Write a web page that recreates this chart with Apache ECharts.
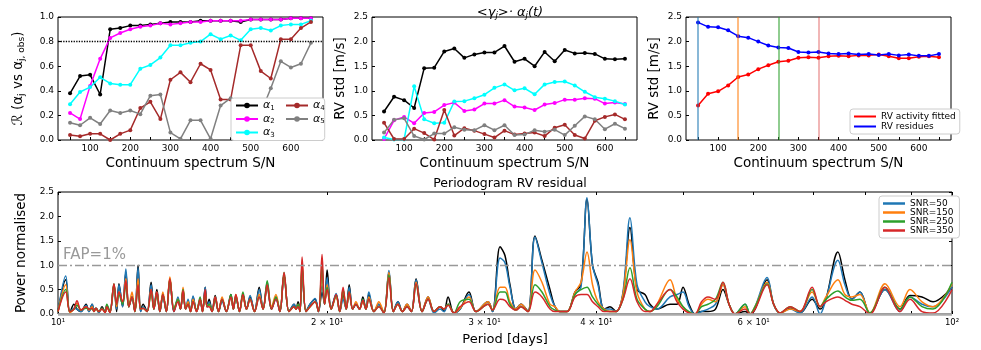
<!DOCTYPE html>
<html lang="en">
<head>
	<meta charset="UTF-8">
	<title>SNR study</title>
	<script src="https://cdn.jsdelivr.net/npm/echarts@6/dist/echarts.min.js"></script>
	<style>
		html,body{margin:0;height:100%;background:#fff;}
		#chart{width:981px;height:350px;}
	</style>
</head>
<body>
	<div id="chart"></div>
<script>
	// S/N grid shared by the three top panels
	var snr = [50,75,100,125,150,175,200,225,250,275,300,325,350,375,400,425,450,475,500,525,550,575,600,625,650];

	// panel 1 : correlation R(alpha_j vs alpha_j,obs)
	var corrA1 = [0.38,0.52,0.53,0.37,0.90,0.91,0.93,0.93,0.94,0.95,0.96,0.96,0.96,0.97,0.97,0.97,0.97,0.96,0.98,0.98,0.98,0.98,0.99,0.99,0.99];
	var corrA2 = [0.22,0.17,0.44,0.66,0.83,0.87,0.90,0.92,0.93,0.95,0.94,0.95,0.96,0.96,0.97,0.97,0.97,0.97,0.98,0.98,0.98,0.98,0.99,0.99,0.99];
	var corrA3 = [0.29,0.39,0.43,0.51,0.46,0.45,0.45,0.58,0.61,0.67,0.77,0.77,0.79,0.80,0.86,0.82,0.85,0.81,0.90,0.91,0.89,0.93,0.94,0.94,0.97];
	var corrA4 = [0.04,0.03,0.05,0.05,0.00,0.05,0.08,0.26,0.31,0.17,0.49,0.55,0.47,0.62,0.57,0.33,0.33,0.77,0.77,0.56,0.50,0.82,0.82,0.91,0.96];
	var corrA5 = [0.14,0.12,0.18,0.13,0.24,0.22,0.24,0.21,0.36,0.37,0.06,0.01,0.16,0.16,0.01,0.28,0.34,0.04,0.02,0.22,0.42,0.64,0.59,0.62,0.79];

	// panel 2 : RV std of <gamma_j>.alpha_j(t)
	var stdA1 = [0.58,0.88,0.81,0.65,1.46,1.47,1.80,1.86,1.67,1.74,1.78,1.78,1.91,1.59,1.65,1.50,1.79,1.60,1.83,1.76,1.77,1.75,1.65,1.64,1.65];
	var stdA2 = [0.02,0.40,0.47,0.34,0.55,0.57,0.71,0.76,0.59,0.62,0.74,0.74,0.81,0.68,0.66,0.61,0.72,0.75,0.82,0.82,0.85,0.84,0.74,0.76,0.73];
	var stdA3 = [0.05,0.01,0.01,1.09,0.42,0.34,0.35,0.78,0.79,0.85,0.92,1.06,1.13,1.01,1.05,0.93,1.13,1.18,1.19,1.11,0.98,0.87,0.84,0.79,0.72];
	var stdA4 = [0.35,0.02,0.02,0.23,0.14,0.01,0.61,0.09,0.24,0.19,0.12,0.05,0.19,0.11,0.13,0.15,0.08,0.25,0.31,0.10,0.03,0.39,0.47,0.52,0.42];
	var stdA5 = [0.15,0.41,0.44,0.08,0.01,0.13,0.13,0.26,0.21,0.20,0.30,0.20,0.30,0.10,0.11,0.20,0.17,0.21,0.10,0.29,0.48,0.42,0.22,0.33,0.23];

	// panel 3 : fitted activity vs residues
	var rvActivity = [0.70,0.94,0.99,1.11,1.28,1.33,1.44,1.52,1.59,1.61,1.67,1.68,1.67,1.70,1.71,1.70,1.72,1.72,1.74,1.70,1.66,1.66,1.69,1.70,1.68];
	var rvResidues = [2.39,2.30,2.29,2.23,2.11,2.08,2.00,1.92,1.88,1.87,1.79,1.78,1.79,1.76,1.75,1.76,1.74,1.75,1.73,1.75,1.72,1.74,1.71,1.71,1.75];
	var snrMarks = [50,150,250,350];

	// periodogram (period in days, normalised power)
	var periods = [10.00,10.20,10.31,10.42,10.50,10.61,10.75,10.83,10.92,10.97,
		11.03,11.11,11.20,11.29,11.34,11.43,11.55,11.63,11.70,11.81,
		11.91,12.00,12.10,12.19,12.29,12.37,12.45,12.58,12.71,12.80,
		12.90,13.00,13.10,13.22,13.34,13.48,13.62,13.71,13.80,13.89,
		13.98,14.07,14.16,14.29,14.42,14.51,14.61,14.68,14.76,14.87,
		14.99,15.12,15.26,15.43,15.61,15.71,15.81,15.96,16.10,16.25,
		16.40,16.59,16.79,16.96,17.14,17.33,17.53,17.71,17.90,18.13,
		18.37,18.46,18.56,18.65,18.75,18.94,19.14,19.39,19.56,19.74,
		19.87,20.00,20.21,20.47,20.66,20.84,21.01,21.17,21.36,21.54,
		21.74,21.93,22.10,22.27,22.56,22.85,23.15,23.45,23.72,24.00,
		24.28,24.57,24.85,25.15,25.54,25.94,26.34,26.75,27.03,27.31,
		27.73,28.17,28.82,29.35,30.27,30.62,31.22,31.62,32.03,32.53,
		32.95,33.55,34.16,34.78,35.51,35.97,36.43,37.10,37.87,38.46,
		39.06,39.62,40.18,40.81,41.44,42.09,42.85,43.63,44.43,45.35,
		45.94,46.77,48.37,49.25,50.02,50.80,51.59,52.46,53.34,54.38,
		55.44,56.31,57.19,58.69,59.45,60.22,62.11,63.17,64.23,65.91,
		67.61,69.74,71.20,72.27,74.54,75.90,77.28,78.89,80.96,84.15,
		87.46,89.74,92.56,95.23,100];
	var powAll = [.05,.70,.03,.20,.10,.05,.20,.05,.20,.08,
		.12,.03,.15,.03,.18,.03,.60,.05,.62,.15,
		.85,.15,.35,.05,1.00,.05,.20,.05,.65,.10,
		.50,.05,.40,.05,.72,.05,.30,.10,.50,.10,
		.25,.05,.35,.05,.30,.05,.55,.15,.30,.05,
		.38,.05,.30,.05,.40,.10,.38,.05,.40,.10,
		.35,.05,.55,.10,.55,.10,.35,.05,.80,.05,
		.20,.10,.25,.05,.90,.05,.20,.30,.05,.45,
		.20,.90,.10,.40,.05,.40,.10,.60,.10,.20,
		.10,.35,.10,.40,.05,.20,.02,.85,.05,.25,
		.05,.20,.05,.72,.05,.35,.05,.15,.05,.35,
		.02,.10,.45,.05,.25,.05,1.38,1.20,.60,.10,
		.20,.05,1.60,1.10,.50,.15,.05,.05,.45,.60,
		2.35,1.00,.65,.10,.15,.05,.40,1.77,.50,.40,
		.20,.10,.20,.20,.55,.20,0,.05,.05,.10,
		.50,.20,0,.05,0,.10,.70,.20,.02,.12,
		.02,.30,.10,.30,1.27,.70,.30,.45,0,.50,
		.10,.38,.35,.25,.55];
	var pow50 = [.05,.78,.03,.12,.10,.05,.18,.05,.20,.08,
		.12,.03,.12,.03,.15,.03,.55,.10,.60,.15,
		.92,.15,.35,.05,.95,.05,.15,.05,.60,.10,
		.45,.05,.35,.05,.70,.05,.35,.10,.45,.10,
		.30,.05,.37,.05,.25,.05,.55,.15,.25,.05,
		.35,.05,.25,.05,.35,.10,.35,.05,.38,.10,
		.38,.05,.50,.10,.65,.10,.30,.05,.80,.05,
		.20,.10,.20,.05,.95,.05,.20,.32,.05,.58,
		.20,.75,.10,.42,.05,.30,.10,.55,.10,.20,
		.10,.30,.10,.45,.05,.20,.02,.89,.05,.25,
		.05,.15,.05,.70,.05,.30,.02,.10,.05,.20,
		.02,.10,.40,.05,.25,.05,1.15,1.05,.55,.10,
		.20,.05,1.58,1.05,.40,.15,.05,.05,.40,.55,
		2.38,1.00,.60,.10,.10,.05,.45,1.97,.60,.25,
		.15,.10,.35,.40,.45,.15,0,.05,.10,.20,
		.60,.20,0,.20,0,.15,.75,.20,.02,.10,
		.02,.35,0,.30,1.10,.60,.30,.45,0,.50,
		.05,.35,.20,.15,.55];
	var pow150 = [.05,.60,.03,.10,.22,.08,.15,.08,.15,.05,
		.10,.05,.10,.03,.15,.03,.60,.15,.45,.25,
		.72,.15,.45,.05,.72,.10,.12,.05,.50,.10,
		.45,.05,.45,.05,.76,.10,.30,.10,.55,.10,
		.25,.05,.30,.05,.30,.05,.45,.15,.20,.05,
		.35,.05,.35,.05,.35,.10,.40,.05,.35,.10,
		.30,.05,.40,.10,.60,.15,.40,.05,.80,.05,
		.15,.10,.20,.05,1.05,.05,.15,.25,.05,.90,
		.20,.60,.10,.35,.05,.50,.10,.45,.10,.25,
		.10,.25,.10,.35,.05,.25,.02,.85,.05,.20,
		.05,.20,.05,.65,.05,.35,.05,.15,.10,.20,
		.02,.12,.35,.05,.25,.08,.55,.55,.25,.10,
		.20,.05,.90,.65,.20,.15,.05,.05,.45,.65,
		1.27,.60,.25,.10,.05,.05,.40,1.52,.45,.10,
		.05,.20,.70,.30,.15,.02,0,.20,.30,.25,
		.60,.20,0,.15,0,.15,.65,.20,.02,.10,
		.05,.45,.15,.35,.70,.40,.35,.40,.02,.62,
		.15,.50,.25,.15,.62];
	var pow250 = [.05,.50,.05,.10,.18,.08,.12,.10,.10,.05,
		.12,.05,.12,.05,.20,.05,.62,.20,.40,.20,
		.60,.15,.35,.05,.55,.10,.12,.05,.45,.10,
		.40,.05,.40,.05,.70,.10,.30,.10,.50,.10,
		.20,.05,.25,.08,.35,.05,.45,.15,.20,.05,
		.30,.05,.30,.05,.40,.10,.35,.05,.45,.10,
		.30,.05,.35,.10,.68,.10,.35,.05,.85,.05,
		.15,.10,.20,.05,1.00,.05,.15,.25,.05,1.00,
		.20,.55,.10,.38,.05,.50,.10,.45,.10,.20,
		.10,.30,.10,.30,.05,.15,.02,.80,.05,.20,
		.05,.15,.05,.60,.05,.30,.05,.15,.10,.20,
		.02,.25,.30,.05,.20,.08,.45,.45,.20,.08,
		.15,.05,.60,.45,.15,.08,.05,.05,.40,.50,
		.55,.35,.20,.08,.05,.05,.30,.95,.30,.10,
		.05,.15,.50,.35,.15,.05,0,.15,.20,.30,
		.65,.20,0,.20,0,.15,.62,.20,.02,.15,
		.05,.50,.15,.30,.47,.35,.28,.30,.02,.55,
		.10,.35,.15,.10,.65];
	var pow350 = [.05,.45,.05,.10,.27,.08,.15,.10,.12,.05,
		.12,.05,.10,.03,.15,.03,.62,.20,.45,.25,
		.68,.15,.35,.05,.60,.10,.12,.05,.50,.10,
		.45,.05,.40,.05,.72,.05,.25,.10,.48,.10,
		.20,.05,.25,.05,.30,.05,.50,.15,.15,.05,
		.35,.05,.30,.05,.35,.10,.40,.05,.40,.10,
		.30,.05,.35,.10,.60,.10,.30,.05,.85,.05,
		.15,.10,.15,.05,1.17,.05,.15,.25,.05,1.22,
		.20,.50,.10,.40,.05,.55,.10,.45,.10,.20,
		.10,.28,.10,.30,.05,.15,.02,.75,.05,.20,
		.05,.15,.05,.62,.05,.30,.05,.15,.10,.18,
		.02,.15,.25,.05,.20,.08,.30,.28,.15,.08,
		.15,.05,.45,.35,.10,.05,.05,.05,.35,.40,
		.40,.25,.15,.05,.05,.05,.30,.72,.25,.05,
		.05,.20,.50,.25,.10,.02,0,.25,.35,.30,
		.65,.20,0,.10,0,.10,.60,.20,.02,.15,
		.05,.55,.15,.25,.35,.28,.20,.15,0,.55,
		.05,.30,.05,.02,.50];

	var periodLabels = {10:'10¹', 20:'2 × 10¹', 30:'3 × 10¹', 40:'4 × 10¹', 60:'6 × 10¹', 100:'10²'};

	var FONT = 'DejaVu Sans';
	var alphaColors = ['#000000','#ff00ff','#00ffff','#a52a2a','#808080'];
	var snrColors = ['#1f77b4','#ff7f0e','#2ca02c','#d62728'];

	function pairs(xs, ys){
		return xs.map(function(x, i){ return [x, ys[i]]; });
	}

	function topX(idx){
		return {
			type:'value', gridIndex:idx, min:20, max:680,
			name:'Continuum spectrum S/N', nameLocation:'middle', nameGap:16,
			nameTextStyle:{fontFamily:FONT, fontSize:13.5, color:'#000'},
			axisLine:{show:false, onZero:false},
			axisTick:{show:true, inside:true, length:3, lineStyle:{color:'#000'},
				customValues:[50,100,150,200,250,300,350,400,450,500,550,600,650]},
			axisLabel:{fontFamily:FONT, fontSize:9, color:'#000', margin:4,
				customValues:[100,200,300,400,500,600]},
			splitLine:{show:false}
		};
	}
	function topY(idx, max, interval, name, gap){
		return {
			type:'value', gridIndex:idx, min:0, max:max, interval:interval,
			name:name, nameLocation:'middle', nameGap:gap,
			nameTextStyle:{fontFamily:FONT, fontSize:13.5, color:'#000',
				rich:{s:{fontFamily:FONT, fontSize:9, color:'#000', padding:[7,0,0,0]},
					g:{fontFamily:FONT, fontSize:14, color:'#000', fontStyle:'italic'}}},
			axisLine:{show:false},
			axisTick:{show:true, inside:true, length:3, lineStyle:{color:'#000'}},
			axisLabel:{fontFamily:FONT, fontSize:9, color:'#000', margin:4,
				formatter:function(v){ return v.toFixed(1); }},
			splitLine:{show:false}
		};
	}
	function alphaSeries(name, xi, data, color, extra){
		var s = {
			name:name, type:'line', xAxisIndex:xi, yAxisIndex:xi,
			data:pairs(snr, data), symbol:'circle', symbolSize:4,
			lineStyle:{width:1.5, color:color}, itemStyle:{color:color}
		};
		if (extra) s.markLine = extra;
		return s;
	}
	function alphaFormatter(name){ return '{a|α}{s|' + name.slice(1) + '}'; }
	var alphaText = {fontFamily:FONT, fontSize:10, color:'#000',
		rich:{a:{fontFamily:FONT, fontSize:11, fontStyle:'italic', color:'#000'},
			s:{fontFamily:FONT, fontSize:7, color:'#000', padding:[5,0,0,0]}}};

	var gridBox = {show:true, borderColor:'#000', borderWidth:1, backgroundColor:'rgba(0,0,0,0)'};
	function grid(l, t, w, h){
		return Object.assign({left:l, top:t, width:w, height:h}, gridBox);
	}

	var alphaData1 = [corrA1, corrA2, corrA3, corrA4, corrA5];
	var alphaData2 = [stdA1, stdA2, stdA3, stdA4, stdA5];
	var series = [];
	for (var i = 0; i < 5; i++) {
		var ml = null;
		if (i === 0) {
			ml = {silent:true, symbol:['none','none'], label:{show:false},
				lineStyle:{type:'dotted', color:'#000', width:1.3},
				data:[{yAxis:0.8}]};
		}
		series.push(alphaSeries('α' + (i + 1), 0, alphaData1[i], alphaColors[i], ml));
	}
	for (var i = 0; i < 5; i++) {
		series.push(alphaSeries('α' + (i + 1), 1, alphaData2[i], alphaColors[i]));
	}
	series.push({
		name:'RV activity fitted', type:'line', xAxisIndex:2, yAxisIndex:2,
		data:pairs(snr, rvActivity), symbol:'circle', symbolSize:4,
		lineStyle:{width:1.5, color:'#ff0000'}, itemStyle:{color:'#ff0000'},
		markLine:{silent:true, symbol:['none','none'], label:{show:false},
			data:snrMarks.map(function(v, k){
				return {xAxis:v, lineStyle:{color:snrColors[k], width:1.5, type:'solid', opacity:k === 3 ? 0.45 : 0.7}};
			})}
	});
	series.push({
		name:'RV residues', type:'line', xAxisIndex:2, yAxisIndex:2,
		data:pairs(snr, rvResidues), symbol:'circle', symbolSize:4,
		lineStyle:{width:1.5, color:'#0000ff'}, itemStyle:{color:'#0000ff'}
	});

	// periodogram
	var pgram = [
		{name:'all', data:powAll, color:'#000000'},
		{name:'SNR=50', data:pow50, color:snrColors[0]},
		{name:'SNR=150', data:pow150, color:snrColors[1]},
		{name:'SNR=250', data:pow250, color:snrColors[2]},
		{name:'SNR=350', data:pow350, color:snrColors[3]}
	];
	pgram.forEach(function(p, k){
		var s = {
			name:p.name, type:'line', xAxisIndex:3, yAxisIndex:3,
			data:pairs(periods, p.data), symbol:'none', smooth:0.35,
			lineStyle:{width:1.5, color:p.color}, itemStyle:{color:p.color}
		};
		if (k === 0) {
			s.markLine = {silent:true, symbol:['none','none'],
				data:[
					{yAxis:1.0, lineStyle:{type:[9,3,2,3], color:'#999', width:1.3},
						label:{show:true, position:'insideStartTop', formatter:'FAP=1%',
							fontFamily:FONT, fontSize:15, color:'#999', distance:[5,3]}},
					{yAxis:0, lineStyle:{type:'solid', color:'#aaa', width:2.5}, label:{show:false}}
				]};
		}
		series.push(s);
	});

	var option = {
		animation:false,
		backgroundColor:'#fff',
		textStyle:{fontFamily:FONT},
		title:[
			{text:'<γ{s|j}>· α{s|j}(t)', left:505, top:0, textAlign:'center',
				textStyle:{fontFamily:FONT, fontSize:13, fontWeight:'normal', fontStyle:'italic', color:'#000',
					rich:{s:{fontFamily:FONT, fontSize:8.5, fontStyle:'italic', color:'#000', padding:[6,0,0,0]}}}},
			{text:'Periodogram RV residual', left:505, top:172, textAlign:'center',
				textStyle:{fontFamily:FONT, fontSize:12.5, fontWeight:'normal', color:'#000'}}
		],
		grid:[grid(58,17,265,123), grid(372,17,265,123), grid(686,17,265,123), grid(58,192,894,122)],
		legend:[
			{data:['α1','α2','α3'], left:231, top:98, orient:'vertical', itemGap:2,
				itemWidth:22, itemHeight:7, formatter:alphaFormatter, textStyle:alphaText,
				backgroundColor:'#fff', borderColor:'#ccc', borderWidth:1, borderRadius:3,
				padding:[2,50,2,4]},
			{data:['α4','α5'], left:281, top:98, orient:'vertical', itemGap:2,
				itemWidth:22, itemHeight:7, formatter:alphaFormatter, textStyle:alphaText,
				padding:[2,4,2,4]},
			{data:['RV activity fitted','RV residues'], left:850, top:109, orient:'vertical',
				itemGap:1, itemWidth:22, itemHeight:2, icon:'rect',
				textStyle:{fontFamily:FONT, fontSize:9, color:'#000'},
				backgroundColor:'#fff', borderColor:'#ccc', borderWidth:1, borderRadius:3, padding:[3,4,3,4]},
			{data:['SNR=50','SNR=150','SNR=250','SNR=350'], left:879, top:196, orient:'vertical',
				itemGap:0, itemWidth:22, itemHeight:2.5, icon:'rect',
				textStyle:{fontFamily:FONT, fontSize:9, color:'#000'},
				backgroundColor:'#fff', borderColor:'#ccc', borderWidth:1, borderRadius:3, padding:[3,6,3,4]}
		],
		xAxis:[
			topX(0), topX(1), topX(2),
			{type:'log', logBase:10, gridIndex:3, min:10, max:100,
				name:'Period [days]', nameLocation:'middle', nameGap:19,
				nameTextStyle:{fontFamily:FONT, fontSize:13, color:'#000'},
				axisLine:{show:false, onZero:false},
				axisTick:{show:true, inside:true, length:3, lineStyle:{color:'#000'},
					customValues:[10,20,30,40,50,60,70,80,90,100]},
				axisLabel:{fontFamily:FONT, fontSize:8.5, color:'#000', margin:4,
					customValues:[10,20,30,40,60,100],
					formatter:function(v){ return periodLabels[Math.round(v)] || ''; }},
				minorTick:{show:false}, splitLine:{show:false}},
			{type:'log', logBase:10, gridIndex:3, min:10, max:100, position:'top',
				axisLine:{show:false, onZero:false},
				axisTick:{show:true, inside:true, length:3, lineStyle:{color:'#000'},
					customValues:[10,20,30,40,50,60,70,80,90,100]},
				axisLabel:{show:false}, splitLine:{show:false}}
		],
		yAxis:[
			topY(0, 1, 0.2, '{g|ℛ} (α{s|j} vs α{s|j, obs})', 32),
			topY(1, 2.5, 0.5, 'RV std [m/s]', 25),
			topY(2, 2.5, 0.5, 'RV std [m/s]', 25),
			topY(3, 2.5, 0.5, 'Power normalised', 25),
			{type:'value', gridIndex:3, min:0, max:2.5, interval:0.5, position:'right',
				axisLine:{show:false}, axisTick:{show:true, inside:true, length:3, lineStyle:{color:'#000'}},
				axisLabel:{show:false}, splitLine:{show:false}}
		],
		series:series
	};

	var myChart = echarts.init(document.getElementById('chart'));
	myChart.setOption(option);
</script>
</body>
</html>
